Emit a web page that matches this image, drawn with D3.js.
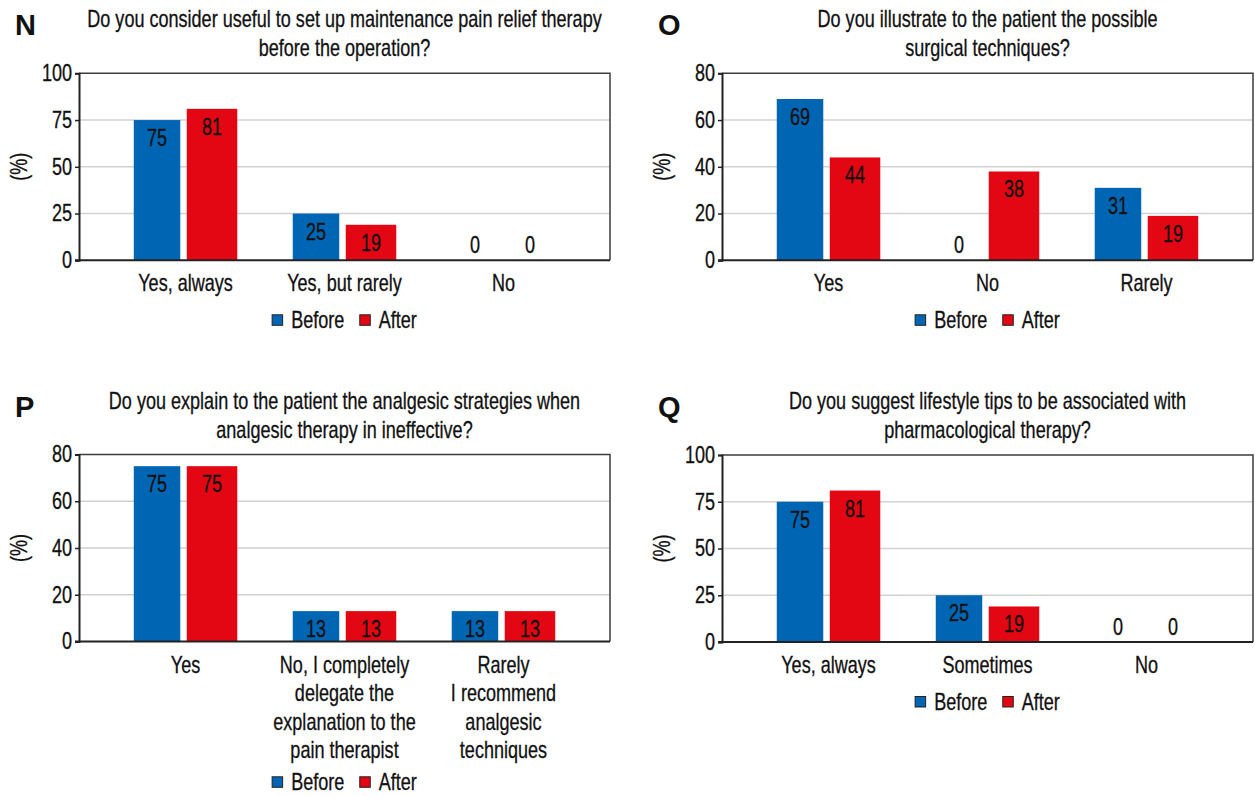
<!DOCTYPE html>
<html>
<head>
<meta charset="utf-8">
<script src="https://cdn.jsdelivr.net/npm/d3@7"></script>
<style>
  html, body { margin: 0; padding: 0; background: #fff; }
  svg { display: block; }
  .cond { font-family: "Liberation Sans", Arial, sans-serif; fill: #111; stroke: #111; stroke-width: 0.3px; }
  .letter { font-family: "Liberation Sans", Arial, sans-serif; font-weight: bold; fill: #111; }
</style>
</head>
<body>
<svg id="chart" width="1255" height="796"></svg>
<script>
// ---- data ----
const seriesNames = ["Before", "After"];
const seriesColors = ["#0066b3", "#e30613"];

const nTitle = ["Do you consider useful to set up maintenance pain relief therapy", "before the operation?"];
const nCategories = [["Yes, always"], ["Yes, but rarely"], ["No"]];
const nBefore = [75, 25, 0];
const nAfter = [81, 19, 0];
const nTicks = [0, 25, 50, 75, 100];

const oTitle = ["Do you illustrate to the patient the possible", "surgical techniques?"];
const oCategories = [["Yes"], ["No"], ["Rarely"]];
const oBefore = [69, 0, 31];
const oAfter = [44, 38, 19];
const oTicks = [0, 20, 40, 60, 80];

const pTitle = ["Do you explain to the patient the analgesic strategies when", "analgesic therapy in ineffective?"];
const pCategories = [["Yes"], ["No, I completely", "delegate the", "explanation to the", "pain therapist"], ["Rarely", "I recommend", "analgesic", "techniques"]];
const pBefore = [75, 13, 13];
const pAfter = [75, 13, 13];
const pTicks = [0, 20, 40, 60, 80];

const qTitle = ["Do you suggest lifestyle tips to be associated with", "pharmacological therapy?"];
const qCategories = [["Yes, always"], ["Sometimes"], ["No"]];
const qBefore = [75, 25, 0];
const qAfter = [81, 19, 0];
const qTicks = [0, 25, 50, 75, 100];

// ---- layout ----
const plotW = 531, plotH = 187;
const panels = [
  { letter: "N", title: nTitle, cats: nCategories, values: [nBefore, nAfter], ticks: nTicks, x0: 79,  y0: 73.3 },
  { letter: "O", title: oTitle, cats: oCategories, values: [oBefore, oAfter], ticks: oTicks, x0: 722, y0: 73.3 },
  { letter: "P", title: pTitle, cats: pCategories, values: [pBefore, pAfter], ticks: pTicks, x0: 79,  y0: 454.5 },
  { letter: "Q", title: qTitle, cats: qCategories, values: [qBefore, qAfter], ticks: qTicks, x0: 722, y0: 455 }
];
const barW = [46.5, 50.5], barGap = 6.5;
const lineH = 28.6;
const SX = 0.785;      // horizontal squeeze giving a condensed face
const FS = 23;         // base font size

const svg = d3.select("#chart");
svg.append("rect").attr("width", 1255).attr("height", 796).attr("fill", "#fff");

// condensed text helper: positioned group, squeezed horizontally
function ctext(parent, x, y, str, anchor = "middle", size = FS, rotate = 0) {
  const g = parent.append("g")
    .attr("transform", `translate(${x},${y})` + (rotate ? ` rotate(${rotate})` : "") + ` scale(${SX},1)`);
  const t = g.append("text").attr("class", "cond")
    .attr("font-size", size).attr("text-anchor", anchor).text(str);
  return t;
}

panels.forEach(p => {
  const g = svg.append("g");
  const x = d3.scaleBand()
    .domain(d3.range(p.cats.length))
    .range([p.x0, p.x0 + plotW])
    .paddingInner(0).paddingOuter(0.17);
  const y = d3.scaleLinear()
    .domain([0, d3.max(p.ticks)])
    .range([p.y0 + plotH, p.y0]);
  const base = y(0);

  // gridlines
  g.append("g").selectAll("line")
    .data(p.ticks.slice(1, -1))
    .join("line")
    .attr("x1", p.x0).attr("x2", p.x0 + plotW)
    .attr("y1", d => y(d)).attr("y2", d => y(d))
    .attr("stroke", "#d2d2d2").attr("stroke-width", 1.6);

  // frame (top and right)
  g.append("path")
    .attr("d", `M${p.x0},${p.y0}H${p.x0 + plotW}V${base}`)
    .attr("fill", "none").attr("stroke", "#3c3c3c").attr("stroke-width", 1.5);

  // bars and value labels
  const groupW = barW[0] + barGap + barW[1];
  const offsets = [0, barW[0] + barGap];
  p.values.forEach((vals, s) => {
    g.append("g").selectAll("rect")
      .data(vals)
      .join("rect")
      .attr("x", (d, i) => x(i) + x.bandwidth() / 2 - groupW / 2 + offsets[s])
      .attr("width", barW[s])
      .attr("y", d => y(d))
      .attr("height", d => base - y(d))
      .attr("fill", seriesColors[s]);
    const lg = g.append("g");
    vals.forEach((d, i) => {
      const cxBar = x(i) + x.bandwidth() / 2 - groupW / 2 + offsets[s] + barW[s] / 2;
      ctext(lg, cxBar, d > 0 ? y(d) + 26 : base - 7, d);
    });
  });

  // y axis
  const yAxis = d3.axisLeft(y).tickValues(p.ticks).tickSize(4).tickPadding(3);
  const ya = g.append("g").attr("transform", `translate(${p.x0},0)`).call(yAxis);
  ya.select(".domain").attr("stroke", "#222").attr("stroke-width", 2);
  ya.selectAll(".tick line").attr("stroke", "#222").attr("stroke-width", 1.5);
  ya.selectAll(".tick text")
    .attr("class", "cond").attr("font-family", null).attr("fill", "#111")
    .attr("font-size", FS)
    .attr("x", -7 / SX)
    .attr("transform", `scale(${SX},1)`);

  // baseline
  g.append("line")
    .attr("x1", p.x0 - 4).attr("x2", p.x0 + plotW)
    .attr("y1", base).attr("y2", base)
    .attr("stroke", "#222").attr("stroke-width", 2);

  // category labels
  let maxLines = 1;
  p.cats.forEach((lines, i) => {
    maxLines = Math.max(maxLines, lines.length);
    lines.forEach((ln, k) => {
      ctext(g, x(i) + x.bandwidth() / 2, base + 31 + k * lineH, ln);
    });
  });

  // y axis title
  ctext(g, p.x0 - 52, p.y0 + plotH / 2, "(%)", "middle", FS, -90);

  // title
  const cx = p.x0 + plotW / 2;
  p.title.forEach((ln, k) => {
    ctext(g, cx, p.y0 - 46 + k * 29, ln);
  });

  // panel letter
  g.append("text").attr("class", "letter").attr("font-size", 29)
    .attr("x", p.x0 - 64).attr("y", p.y0 - 38)
    .text(p.letter);

  // legend
  const legendCy = base + 23 + (maxLines - 1) * lineH + (maxLines > 1 ? 32 : 37);
  const leg = g.append("g");
  let cursor = 0;
  seriesNames.forEach((name, s) => {
    leg.append("rect")
      .attr("x", cursor).attr("y", legendCy - 5.5)
      .attr("width", 10.5).attr("height", 10.5)
      .attr("fill", seriesColors[s]).attr("stroke", "#222").attr("stroke-width", 1);
    const t = ctext(leg, cursor + 19, legendCy + 8, name, "start");
    cursor += 19 + t.node().getComputedTextLength() * SX + 15.5;
  });
  const legW = cursor - 15.5;
  leg.attr("transform", `translate(${cx - legW / 2},0)`);
});
</script>
</body>
</html>
